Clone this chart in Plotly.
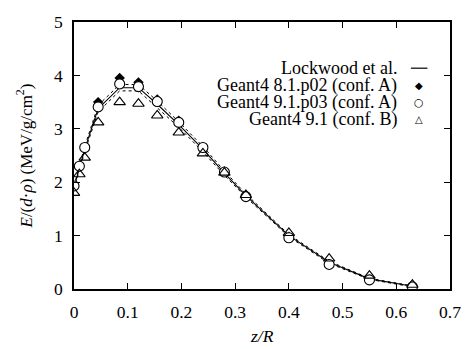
import plotly.graph_objects as go

# Data
z_R = [0.0, 0.01, 0.02, 0.045, 0.085, 0.12, 0.155, 0.195, 0.24, 0.28, 0.32, 0.40, 0.475, 0.55, 0.63]
lockwood = [1.90, 2.28, 2.62, 3.38, 3.77, 3.77, 3.46, 3.08, 2.62, 2.17, 1.75, 1.00, 0.50, 0.19, 0.05]
lockwood_err = [0.03, 0.04, 0.05, 0.06, 0.06, 0.06, 0.06, 0.05, 0.05, 0.04, 0.03, 0.02, 0.02, 0.01, 0.01]
g4_81p02_A = [1.93, 2.30, 2.65, 3.50, 3.95, 3.87, 3.55, 3.15, 2.66, 2.20, 1.75, 0.98, 0.47, 0.17, 0.04]
g4_91p03_A = [1.93, 2.30, 2.65, 3.41, 3.84, 3.79, 3.51, 3.12, 2.65, 2.19, 1.73, 0.96, 0.46, 0.17, 0.04]
g4_91_B = [1.80, 2.15, 2.46, 3.12, 3.50, 3.47, 3.25, 2.93, 2.54, 2.18, 1.76, 1.05, 0.57, 0.25, 0.08]

legend_labels = ["Lockwood et al.", "Geant4 8.1.p02 (conf. A)", "Geant4 9.1.p03 (conf. A)", "Geant4 9.1 (conf. B)"]

FONT = "Liberation Serif, Times New Roman, serif"

fig = go.Figure()

upper = [v + e for v, e in zip(lockwood, lockwood_err)]
lower = [v - e for v, e in zip(lockwood, lockwood_err)]
for band in (upper, lower):
    fig.add_trace(go.Scatter(x=z_R, y=band, mode="lines",
                             line=dict(color="black", width=1, dash="dot"),
                             showlegend=False, hoverinfo="skip"))
fig.add_trace(go.Scatter(x=z_R, y=lockwood, mode="lines",
                         line=dict(color="black", width=1.1), name=legend_labels[0],
                         showlegend=False))
fig.add_trace(go.Scatter(x=z_R, y=g4_81p02_A, mode="markers", name=legend_labels[1],
                         marker=dict(symbol="diamond", size=8, color="black"),
                         showlegend=False))
fig.add_trace(go.Scatter(x=z_R, y=g4_91p03_A, mode="markers", name=legend_labels[2],
                         marker=dict(symbol="circle", size=10, color="white",
                                     line=dict(color="black", width=1.1)),
                         showlegend=False))
fig.add_trace(go.Scatter(x=z_R, y=g4_91_B, mode="markers", name=legend_labels[3],
                         marker=dict(symbol="triangle-up", size=10, color="rgba(0,0,0,0)",
                                     line=dict(color="black", width=1.1)),
                         showlegend=False))

# custom legend: text right-aligned, key symbol on the right
rows_y = [0.827, 0.763, 0.700, 0.636]
text_x = 0.862
sym_x = 0.918
for lab, yy in zip(legend_labels, rows_y):
    fig.add_annotation(x=text_x, y=yy, xref="paper", yref="paper", text=lab,
                       showarrow=False, xanchor="right", yanchor="middle",
                       borderpad=0, font=dict(family=FONT, size=18, color="black"))
fig.add_shape(type="line", xref="paper", yref="paper", x0=0.896, x1=0.94,
              y0=rows_y[0], y1=rows_y[0], line=dict(color="black", width=1.2))
for sym, yy, sz in zip(["◆", "○", "△"], rows_y[1:], [10, 11, 10]):
    fig.add_annotation(x=sym_x, y=yy, xref="paper", yref="paper", text=sym,
                       showarrow=False, xanchor="center", yanchor="middle",
                       font=dict(family="DejaVu Sans", size=sz, color="black"))

# axis titles placed as annotations for exact positioning
fig.add_annotation(x=-0.133, y=0.5, xref="paper", yref="paper",
                   text="<i>E</i>/(<i>d</i>·<i>ρ</i>) (MeV/g/cm<sup>2</sup>)",
                   textangle=-90, showarrow=False, xanchor="center", yanchor="middle",
                   font=dict(family=FONT, size=17, color="black"))
fig.add_annotation(x=0.5, y=-0.175, xref="paper", yref="paper", text="<i>z/R</i>",
                   showarrow=False, xanchor="center", yanchor="middle",
                   font=dict(family=FONT, size=17.5, color="black"))

axis_common = dict(showline=True, linecolor="black", linewidth=1.5, mirror="ticks",
                   ticks="inside", ticklen=6, tickwidth=1.2, tickcolor="black",
                   showgrid=False, zeroline=False,
                   tickfont=dict(family=FONT, size=17.5, color="black"))

fig.update_layout(
    width=473, height=349,
    margin=dict(l=74, r=15, t=15, b=60),
    paper_bgcolor="white", plot_bgcolor="white",
    xaxis=dict(range=[0, 0.7], dtick=0.1, tickformat="~g", ticklabelstandoff=6,
               **axis_common),
    yaxis=dict(range=[0, 5], dtick=1, ticklabelstandoff=6,
               **axis_common),
)

fig.write_html("out.html")
